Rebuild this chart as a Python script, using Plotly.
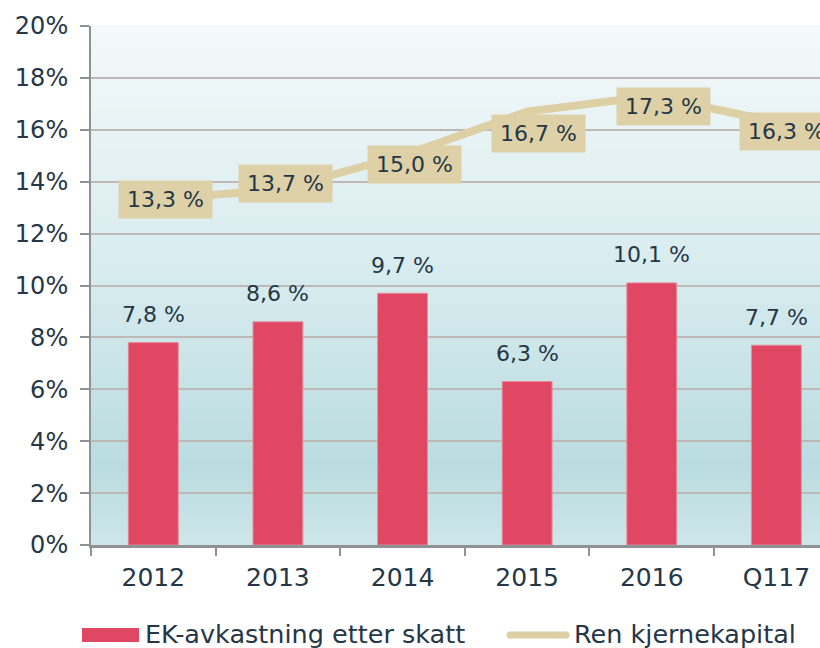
import plotly.graph_objects as go

# ---- data ----
categories = ["2012", "2013", "2014", "2015", "2016", "Q117"]
ek_avkastning = [7.8, 8.6, 9.7, 6.3, 10.1, 7.7]
ren_kjernekapital = [13.3, 13.7, 15.0, 16.7, 17.3, 16.3]
y_ticks = [0, 2, 4, 6, 8, 10, 12, 14, 16, 18, 20]
y_tick_labels = [f"{v}%" for v in y_ticks]
series_names = ["EK-avkastning etter skatt", "Ren kjernekapital"]

# ---- style ----
W, H = 820, 648
ML, MR, MT, MB = 91, 0, 26, 103
BAR_COLOR = "#E04763"
LINE_COLOR = "#DDD0A5"
TEXT_COLOR = "#253746"
FONT = "DejaVu Sans"
# pixel offsets for line labels (placement of boxes relative to points)
line_label_shift = [(12, 0), (8, 6), (12, -9), (11, -22), (12, -10), (10, -9)]


def fmt(v):
    return f"{v:.1f}".replace(".", ",") + " %"


pw = W - ML - MR
ph = H - MT - MB


def px2x(px):
    return (px - ML) / pw


def px2y(py):
    return (H - MB - py) / ph


fig = go.Figure()
fig.add_trace(go.Bar(
    x=categories, y=ek_avkastning, name=series_names[0],
    marker=dict(color=BAR_COLOR, line=dict(color="#E98A99", width=1)),
    width=0.4, showlegend=False,
))
fig.add_trace(go.Scatter(
    x=categories, y=ren_kjernekapital, name=series_names[1], mode="lines",
    line=dict(color=LINE_COLOR, width=8), showlegend=False,
))

annotations = []
for i, v in enumerate(ek_avkastning):
    annotations.append(dict(
        x=i, y=v, xref="x", yref="y", text=fmt(v), showarrow=False,
        yanchor="middle", yshift=28,
        font=dict(family=FONT, size=22, color=TEXT_COLOR),
    ))
for i, (v, (dx, dy)) in enumerate(zip(ren_kjernekapital, line_label_shift)):
    annotations.append(dict(
        x=i, y=v, xref="x", yref="y", text=fmt(v), showarrow=False,
        xshift=dx, yshift=dy, width=93, height=37, borderpad=0,
        bgcolor="#DED1A7", align="center", valign="middle",
        font=dict(family=FONT, size=22, color=TEXT_COLOR),
    ))

# custom legend
annotations.append(dict(
    x=px2x(143), y=px2y(634), xref="paper", yref="paper", xanchor="left",
    yanchor="middle", text=series_names[0], showarrow=False,
    font=dict(family=FONT, size=25.5, color=TEXT_COLOR),
))
annotations.append(dict(
    x=px2x(572), y=px2y(634), xref="paper", yref="paper", xanchor="left",
    yanchor="middle", text=series_names[1], showarrow=False,
    font=dict(family=FONT, size=25.5, color=TEXT_COLOR),
))

shapes = []


# gradient background
def hex2rgb(h):
    h = h.lstrip("#")
    return [int(h[i:i + 2], 16) for i in (0, 2, 4)]


stops = [(0.0, "#F4F9FA"), (0.5, "#D6EBEE"), (0.85, "#BADCE0"), (1.0, "#CDE6E9")]
N = 80
for i in range(N):
    t = (i + 0.5) / N
    for j in range(len(stops) - 1):
        if stops[j][0] <= t <= stops[j + 1][0]:
            a, ca = stops[j]
            b, cb = stops[j + 1]
            f = (t - a) / (b - a)
            r1, r2 = hex2rgb(ca), hex2rgb(cb)
            col = "rgb(%d,%d,%d)" % tuple(round(r1[k] + (r2[k] - r1[k]) * f) for k in range(3))
            break
    shapes.append(dict(
        type="rect", xref="paper", yref="paper", layer="below",
        x0=0, x1=1, y0=1 - (i + 1) / N - 0.001, y1=1 - i / N + 0.001,
        fillcolor=col, line=dict(width=0),
    ))

# legend swatches
shapes.append(dict(
    type="rect", xref="paper", yref="paper",
    x0=px2x(82), x1=px2x(139), y0=px2y(642), y1=px2y(628),
    fillcolor=BAR_COLOR, line=dict(width=0),
))
shapes.append(dict(
    type="line", xref="paper", yref="paper",
    x0=px2x(510), x1=px2x(566), y0=px2y(635), y1=px2y(635),
    line=dict(color=LINE_COLOR, width=7),
))
for cx in (510, 566):
    shapes.append(dict(
        type="circle", xref="paper", yref="paper",
        x0=px2x(cx - 3.5), x1=px2x(cx + 3.5), y0=px2y(638.5), y1=px2y(631.5),
        fillcolor=LINE_COLOR, line=dict(width=0),
    ))

fig.update_layout(
    width=W, height=H,
    margin=dict(l=ML, r=MR, t=MT, b=MB, pad=0),
    paper_bgcolor="white", plot_bgcolor="rgba(0,0,0,0)",
    font=dict(family=FONT, color=TEXT_COLOR),
    annotations=annotations, shapes=shapes,
    bargap=0.6,
)
fig.update_xaxes(
    type="category", range=[-0.5, 5.35], tickson="boundaries",
    ticks="outside", ticklen=8, tickwidth=2, tickcolor="#8E9295",
    showline=True, linecolor="#8E9295", linewidth=3,
    showgrid=False, tickfont=dict(family=FONT, size=25, color=TEXT_COLOR),
    ticklabelstandoff=8,
)
fig.update_yaxes(
    range=[0, 20], tickvals=y_ticks, ticktext=y_tick_labels,
    ticks="outside", ticklen=9, tickwidth=2, tickcolor="#8E9295",
    showline=True, linecolor="#8E9295", linewidth=2,
    showgrid=True, gridcolor="#BEB9B6", gridwidth=2, zeroline=False,
    tickfont=dict(family=FONT, size=24, color=TEXT_COLOR),
    ticklabelstandoff=7,
)

fig.write_html(
    "out.html",
    config={"displayModeBar": False},
    post_script="document.body.style.margin='0px';document.body.style.overflow='hidden';",
)
